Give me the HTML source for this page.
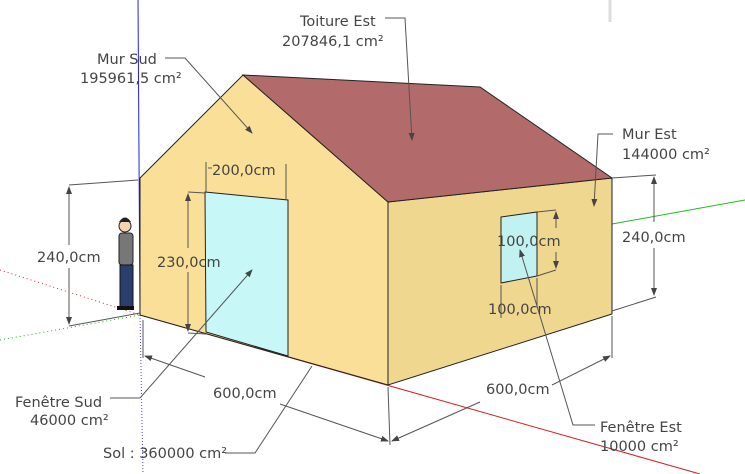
<!DOCTYPE html>
<html><head><meta charset="utf-8"><style>
html,body{margin:0;padding:0;background:#fff;width:745px;height:474px;overflow:hidden}
text{font-family:"DejaVu Sans","Liberation Sans",sans-serif;font-size:14.5px;fill:#444}
</style></head><body>
<svg width="745" height="474" viewBox="0 0 745 474">
<defs><marker id="ar" markerWidth="8" markerHeight="8" refX="7" refY="4" orient="auto"><path d="M0,1 L8,4 L0,7 z" fill="#444"/></marker></defs>
<g>
<line x1="610" y1="0" x2="610" y2="22" stroke="#ddd" stroke-width="3"/>
<line x1="138" y1="0" x2="140" y2="315" stroke="#2222dd" stroke-width="1"/>
<line x1="140" y1="315" x2="143" y2="474" stroke="#4444ee" stroke-dasharray="1,2"/>
<line x1="140" y1="315" x2="700" y2="474" stroke="#d62020" stroke-width="1"/>
<line x1="612" y1="224" x2="745" y2="200" stroke="#22bb22" stroke-width="1"/>
<line x1="0" y1="270" x2="140" y2="315" stroke="#c03030" stroke-dasharray="1,3"/>
<line x1="0" y1="340" x2="140" y2="315" stroke="#30a030" stroke-dasharray="1,3"/>
</g>
<polygon points="140,178 243,75 388,202 388,385 140,315" fill="#f9df97" stroke="#222"/>
<polygon points="388,202 612,178 612,314 388,385" fill="#f0d78f" stroke="#222"/>
<polygon points="243,75 480,87 612,178 388,202" fill="#b26a6a" stroke="#222"/>
<polygon points="205,192 288,200 288,356 206,332" fill="#c8f7f7" stroke="#222"/>
<polygon points="501,217 537,212 537,276 501,283" fill="#c2f1f1" stroke="#222"/>
<g>
<circle cx="125" cy="226" r="6" fill="#f3d3b0" stroke="#222"/>
<path d="M119,222 q6,-9 12,0" fill="#222"/>
<rect x="119" y="233" width="14" height="32" rx="3" fill="#777" stroke="#222"/>
<rect x="120" y="265" width="13" height="42" fill="#2a3f6e" stroke="#111"/>
<rect x="117" y="306" width="17" height="4" fill="#111"/>
</g>
<g stroke="#555" fill="none" stroke-width="1">
<line x1="69" y1="185" x2="138" y2="180"/><line x1="69" y1="326" x2="140" y2="313"/>
<line x1="69" y1="245" x2="69" y2="187" marker-end="url(#ar)"/><line x1="69" y1="268" x2="69" y2="324" marker-end="url(#ar)"/>
<line x1="188" y1="192" x2="205" y2="193"/><line x1="188" y1="333" x2="206" y2="334"/>
<line x1="188" y1="248" x2="188" y2="194" marker-end="url(#ar)"/><line x1="188" y1="272" x2="188" y2="331" marker-end="url(#ar)"/>
<line x1="206" y1="162" x2="206" y2="192"/><line x1="286" y1="164" x2="286" y2="200"/>
<line x1="212" y1="168" x2="208" y2="168"/>
<line x1="556" y1="210" x2="537" y2="212"/><line x1="556" y1="270" x2="537" y2="276"/>
<line x1="556" y1="228" x2="556" y2="212" marker-end="url(#ar)"/><line x1="556" y1="252" x2="556" y2="268" marker-end="url(#ar)"/>
<line x1="501" y1="285" x2="501" y2="318"/><line x1="537" y1="278" x2="537" y2="306"/>
<line x1="612" y1="178" x2="656" y2="175"/><line x1="612" y1="311" x2="656" y2="297"/>
<line x1="654" y1="222" x2="654" y2="177" marker-end="url(#ar)"/><line x1="654" y1="248" x2="654" y2="295" marker-end="url(#ar)"/>
<line x1="143" y1="320" x2="143" y2="358"/><line x1="388" y1="387" x2="390" y2="445"/><line x1="612" y1="316" x2="612" y2="358"/>
<line x1="205" y1="377" x2="145" y2="356" marker-end="url(#ar)"/><line x1="280" y1="404" x2="388" y2="441" marker-end="url(#ar)"/>
<line x1="480" y1="402" x2="392" y2="441" marker-end="url(#ar)"/><line x1="552" y1="385" x2="610" y2="356" marker-end="url(#ar)"/>
</g>
<g stroke="#555" fill="none">
<polyline points="385,18 405,18 412,140" marker-end="url(#ar)"/>
<polyline points="165,58 185,58 252,133" marker-end="url(#ar)"/>
<polyline points="613,134 598,134 594,206" marker-end="url(#ar)"/>
<polyline points="110,398 140,398 252,270" marker-end="url(#ar)"/>
<polyline points="225,453 255,453 312,366"/>
<polyline points="595,425 573,425 520,250" marker-end="url(#ar)"/>
</g>
<g>
<text x="300" y="26">Toiture Est</text><text x="282" y="46">207846,1 cm²</text>
<text x="97" y="64">Mur Sud</text><text x="80" y="83">195961,5 cm²</text>
<text x="622" y="139">Mur Est</text><text x="622" y="159">144000 cm²</text>
<text x="37" y="262">240,0cm</text>
<text x="157" y="267">230,0cm</text>
<text x="212" y="175">200,0cm</text>
<text x="497" y="246">100,0cm</text>
<text x="488" y="314">100,0cm</text>
<text x="622" y="242">240,0cm</text>
<text x="213" y="398">600,0cm</text>
<text x="486" y="394">600,0cm</text>
<text x="15" y="407">Fenêtre Sud</text><text x="30" y="425">46000 cm²</text>
<text x="103" y="458">Sol : 360000 cm²</text>
<text x="600" y="432">Fenêtre Est</text><text x="600" y="451">10000 cm²</text>
</g>
</svg>
</body></html>
